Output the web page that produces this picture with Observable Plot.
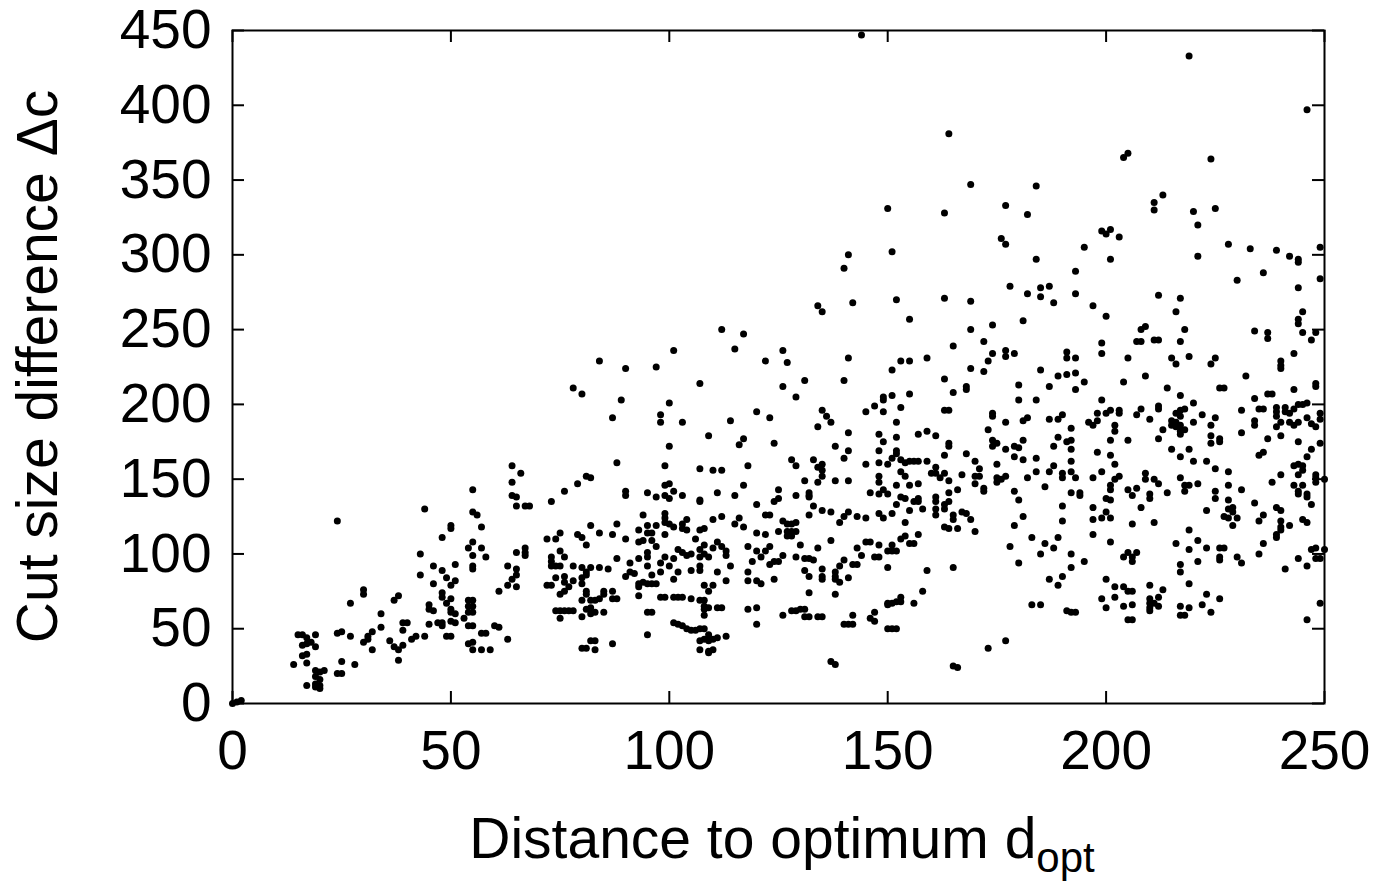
<!DOCTYPE html>
<html><head><meta charset="utf-8">
<script src="https://cdn.jsdelivr.net/npm/d3@7"></script>
<script src="https://cdn.jsdelivr.net/npm/@observablehq/plot@0.6"></script>
<style>body{margin:0;background:#fff;}</style>
</head><body><div id="chart"></div>
<script>
const xTicks = [0, 50, 100, 150, 200, 250];
const yTicks = [0, 50, 100, 150, 200, 250, 300, 350, 400, 450];
const xLabelMain = "Distance to optimum d";
const xLabelSub = "opt";
const yLabelText = "Cut size difference \u0394c";

// [distance, cut size difference]
const topMiddle = [[144,447],[164,381],[169,347],[184,346],[150,331],[163,328],[177,333],[182,327],[176,311],[177,307]];
const topRight = [[219,433],[246,397],[204,365],[205,368],[224,364],[211,335],[211,330],[213,340],[220,329],[225,331],[221,320],[199,316],[200,314],[201,317],[203,312],[195,305],[228,307],[233,304],[239,303],[249,305]];
const midLeft = [[112,250],[117,247],[115,237],[101,236],[84,229],[90,224],[97,225],[122,229],[107,214],[78,211],[80,207],[89,203],[100,201],[87,191],[98,193],[98,188],[103,188],[114,189],[120,195],[123,191],[109,179],[117,177],[116,173],[124,174],[100,172],[88,161],[64,159],[66,154],[99,159],[107,157],[110,156],[112,156],[118,159]];
const midCenter = [[141,300],[151,302],[140,291],[184,297],[178,279],[185,278],[187,279],[182,274],[185,272],[188,268],[134,266],[135,262],[142,268],[152,270],[163,271],[169,269],[155,257],[181,256],[169,250],[174,253],[172,242],[165,239],[177,236],[177,232],[179,234],[174,234],[173,229],[172,222],[169,224],[126,236],[127,228],[141,231],[153,229],[155,229],[159,231],[151,223],[185,223],[126,212],[131,216],[140,216],[129,205],[163,217],[168,212],[168,210],[165,208],[180,213],[187,212],[180,203],[184,203],[149,205],[149,203],[151,206],[155,207],[147,199],[153,198],[145,195],[149,195],[135,196],[136,192],[137,188],[134,185],[163,196],[164,196],[174,194],[174,192],[177,188],[181,189],[182,191],[187,190],[152,188],[141,181],[148,180],[152,178],[149,175],[157,180],[159,182],[161,179],[164,174],[164,172],[173,183],[174,176],[175,174],[174,172],[181,176],[179,172],[180,171],[177,170],[188,172],[138,172],[141,169],[140,164],[148,169],[152,169],[152,167],[151,164],[153,163],[154,161],[155,162],[156,162],[157,162],[159,162],[150,160],[148,161],[145,160],[163,166],[168,167],[170,162],[175,160],[179,165],[181,163],[184,164],[188,159],[128,163],[129,159],[133,163],[134,158],[135,160],[135,156],[135,152],[161,158],[160,154],[161,154],[163,154],[153,155],[154,152],[148,152],[171,157],[170,152],[171,152],[167,153],[182,151],[184,155],[187,155],[175,151],[177,152]];
const midRight = [[201,297],[221,299],[242,299],[244,297],[244,295],[193,289],[236,288],[230,283],[249,284],[244,278],[193,274],[212,273],[217,271],[197,266],[216,262],[200,259],[245,262],[244,257],[244,254],[208,250],[209,252],[218,250],[234,249],[237,248],[237,244],[245,248],[248,248],[247,243],[207,242],[208,242],[211,243],[212,243],[217,242],[199,241],[199,234],[191,235],[191,231],[193,231],[205,231],[215,231],[216,227],[219,232],[225,231],[224,227],[243,234],[240,229],[240,226],[240,224],[189,219],[191,220],[193,221],[195,215],[193,210],[204,215],[209,219],[232,219],[214,211],[217,206],[226,211],[227,211],[243,210],[248,214],[248,212],[199,203],[220,201],[234,204],[237,207],[238,207],[244,200],[245,200],[246,201],[208,197],[212,199],[212,197],[218,197],[217,196],[216,194],[217,192],[235,197],[236,197],[239,198],[239,195],[239,192],[241,198],[241,195],[242,194],[243,197],[231,196],[201,196],[203,196],[203,194],[200,194],[198,194],[207,193],[189,190],[190,193],[192,184],[196,188],[197,186],[198,189],[202,186],[202,182],[210,190],[213,183],[215,189],[215,186],[216,188],[216,185],[217,186],[217,182],[218,183],[217,180],[220,188],[222,193],[225,191],[224,186],[224,179],[224,174],[226,177],[226,175],[231,181],[234,189],[234,186],[237,177],[240,188],[239,185],[240,179],[242,188],[244,188],[243,186],[246,191],[247,187],[248,185],[249,194],[249,190],[244,175],[247,170],[249,174],[246,165],[243,159],[244,160],[245,159],[245,156],[244,153],[248,153],[189,178],[191,175],[192,176],[192,170],[192,162],[192,155],[190,154],[190,151],[193,151],[198,168],[201,166],[201,176],[202,160],[199,155],[205,176],[212,177],[215,170],[217,165],[219,170],[220,162],[223,162],[225,157],[228,155],[235,166],[236,168],[240,153],[209,154],[203,152]];
const lowRight = [[197,151],[202,150],[209,150],[211,150],[212,147],[217,151],[218,146],[219,146],[221,147],[228,146],[238,148],[243,146],[245,146],[248,151],[248,148],[250,150],[201,146],[201,143],[205,143],[207,144],[206,139],[210,140],[210,137],[214,141],[218,142],[225,142],[225,137],[231,143],[192,141],[194,141],[194,139],[200,137],[201,136],[244,142],[244,140],[246,140],[246,138],[247,133],[228,136],[234,134],[190,132],[197,131],[197,123],[208,131],[199,124],[200,128],[201,124],[190,122],[206,120],[211,121],[223,129],[228,130],[229,131],[229,128],[227,125],[228,124],[230,124],[229,119],[235,122],[236,126],[239,131],[240,129],[240,122],[240,118],[240,116],[242,119],[239,113],[239,111],[245,123],[246,121],[219,116],[197,113],[189,111],[188,104],[201,108],[216,107],[219,103],[221,109],[223,104],[226,104],[227,104],[226,98],[226,96],[230,98],[231,94],[221,95],[236,107],[235,100],[192,100],[192,91],[195,95],[206,98],[205,101],[204,98],[207,101],[206,95],[217,93],[217,88],[219,80],[190,85],[189,79],[200,83],[202,78],[204,78],[205,75],[206,75],[210,79],[213,76],[212,71],[210,70],[210,67],[210,64],[211,67],[212,65],[210,62],[199,70],[200,64],[202,71],[204,65],[206,66],[205,56],[206,56],[217,65],[219,64],[217,59],[218,59],[222,66],[223,73],[224,61],[226,70],[191,62],[192,61],[193,61],[241,90],[244,97],[246,92],[247,103],[248,104],[248,97],[249,97],[250,103],[249,67],[246,56]];
const lowCenter = [[131,149],[134,148],[138,149],[141,149],[148,148],[152,146],[155,146],[157,147],[162,151],[164,149],[170,147],[175,148],[176,150],[186,145],[125,143],[125,137],[129,139],[132,141],[132,139],[132,138],[133,132],[135,129],[137,128],[132,126],[139,121],[140,125],[141,128],[143,125],[145,124],[146,141],[148,140],[149,143],[150,140],[152,133],[153,138],[154,137],[156,135],[157,137],[157,135],[158,130],[155,129],[151,127],[154,121],[148,127],[149,124],[161,138],[161,135],[161,130],[161,126],[163,133],[163,130],[164,135],[164,141],[166,143],[165,126],[165,123],[167,128],[168,127],[169,123],[170,115],[163,118],[164,117],[166,117],[172,144],[172,142],[179,142],[180,136],[181,125],[179,119],[183,111],[186,107],[185,100],[178,105],[180,94],[187,83],[126,122],[127,120],[128,120],[129,121],[125,115],[127,115],[128,115],[129,115],[127,112],[128,112],[130,106],[134,104],[126,99],[125,95],[129,98],[131,97],[132,97],[133,96],[131,89],[132,85],[135,90],[135,85],[135,83],[138,88],[138,85],[138,83],[139,92],[139,81],[140,96],[141,84],[142,93],[143,93],[143,104],[144,99],[137,109],[145,108],[146,108],[148,106],[147,98],[148,98],[150,102],[151,106],[151,102],[152,102],[153,110],[154,112],[155,107],[156,107],[157,113],[150,91],[159,89],[165,91],[132,74],[138,73],[126,59],[128,62],[129,62],[130,63],[131,63],[131,58],[132,58],[134,58],[135,58],[140,53],[141,53],[142,53],[142,59],[146,57],[147,61],[147,55],[150,67],[151,67],[152,68],[153,71],[153,68],[150,66],[156,67],[158,75],[150,50],[151,50],[152,50],[137,28],[138,26],[165,25],[166,24],[173,37],[177,42],[183,66],[185,66]];
const lowMid = [[64,148],[79,147],[81,152],[82,151],[76,142],[73,135],[64,139],[65,138],[65,132],[67,132],[68,132],[90,142],[90,139],[95,141],[97,138],[99,146],[100,147],[99,139],[100,137],[101,142],[103,139],[107,136],[107,135],[111,141],[115,139],[117,146],[120,133],[124,135],[94,126],[99,127],[99,124],[99,121],[100,120],[101,118],[103,120],[104,123],[103,117],[104,116],[107,116],[108,117],[110,123],[112,125],[116,124],[115,120],[117,118],[120,114],[122,113],[122,126],[123,126],[93,116],[95,119],[97,119],[95,114],[96,114],[93,108],[94,109],[96,109],[97,105],[99,113],[106,110],[82,119],[84,114],[87,113],[88,120],[90,110],[79,113],[80,111],[81,106],[75,114],[74,110],[72,110],[65,101],[67,104],[67,101],[67,99],[63,92],[65,90],[65,86],[64,83],[63,79],[65,78],[73,98],[73,95],[73,92],[74,92],[75,92],[75,102],[76,98],[78,92],[80,91],[82,91],[81,88],[84,91],[86,90],[88,97],[72,79],[73,79],[74,84],[76,85],[76,81],[77,78],[76,75],[75,73],[78,82],[80,84],[80,80],[81,86],[81,75],[81,73],[80,69],[82,69],[83,69],[84,70],[85,75],[85,73],[87,75],[88,70],[87,70],[74,62],[75,62],[76,62],[77,62],[78,62],[75,57],[80,58],[81,63],[82,64],[82,60],[83,61],[85,61],[91,94],[90,85],[91,88],[92,87],[93,97],[95,101],[95,98],[95,92],[96,86],[98,94],[98,88],[99,98],[100,92],[101,97],[101,83],[102,88],[102,103],[103,101],[104,99],[105,100],[105,89],[107,103],[107,98],[107,92],[107,89],[108,106],[108,100],[109,98],[110,104],[111,108],[111,88],[112,105],[113,102],[113,99],[114,92],[113,82],[93,80],[94,81],[95,80],[96,80],[97,80],[93,78],[93,72],[98,71],[99,71],[101,71],[102,71],[103,71],[105,70],[108,79],[109,75],[110,79],[107,69],[108,69],[108,65],[108,63],[109,64],[111,64],[112,64],[108,59],[95,61],[96,61],[95,46],[101,54],[102,53],[103,52],[104,50],[105,49],[106,49],[107,50],[108,50],[109,46],[108,43],[107,42],[109,42],[110,43],[111,44],[113,45],[107,36],[109,35],[110,36],[109,34],[118,105],[118,88],[118,82],[120,102],[120,82],[121,80],[121,98],[119,95],[122,102],[123,105],[123,93],[124,95],[124,83],[118,63],[120,64],[120,53],[63,43],[80,37],[81,37],[82,42],[83,42],[83,36],[87,40]];
const lowLeft = [[24,122],[44,130],[55,143],[55,128],[56,126],[57,118],[50,119],[50,117],[48,111],[54,104],[55,108],[57,104],[58,98],[55,99],[55,92],[55,90],[43,100],[43,86],[46,92],[46,80],[48,89],[49,84],[50,79],[51,82],[51,93],[48,74],[48,71],[50,70],[49,67],[45,66],[45,63],[46,62],[50,63],[50,61],[51,60],[54,69],[55,69],[54,65],[55,65],[54,61],[55,61],[53,57],[54,52],[55,52],[51,54],[50,55],[47,54],[48,54],[48,52],[45,53],[57,47],[58,47],[60,52],[61,51],[61,75],[54,40],[55,41],[55,36],[57,36],[59,36],[49,45],[50,45],[44,45],[42,45],[41,43],[39,54],[40,54],[39,49],[38,72],[37,69],[34,60],[34,51],[30,76],[30,73],[27,67],[32,48],[31,45],[31,43],[30,41],[32,36],[36,42],[37,38],[38,36],[38,29],[39,39],[24,47],[25,48],[27,45],[28,26],[25,28],[24,20],[25,20],[15,46],[16,46],[17,44],[16,39],[17,40],[19,46],[19,38],[18,41],[14,26],[17,27],[16,32],[17,12],[17,33],[19,22],[19,18],[20,21],[21,22],[19,13],[19,11],[20,12],[20,10],[20,16],[0,0],[1,1],[2,2]];

const points = [topMiddle, topRight, midLeft, midCenter, midRight, lowRight, lowCenter, lowMid, lowLeft]
  .flat().map(([d, c]) => ({d, c}));

const W = 1389, H = 884, mL = 232, mR = 65, mT = 30, mB = 181;
const innerW = W - mL - mR, innerH = H - mT - mB;
const font = "'Liberation Sans', Arial, Helvetica, sans-serif";
const tickLen = 12;

const chart = Plot.plot({
  width: W, height: H,
  marginLeft: mL, marginRight: mR, marginTop: mT, marginBottom: mB,
  style: {fontFamily: font, background: "white", color: "black", overflow: "visible"},
  x: {domain: [0, 250]},
  y: {domain: [0, 450]},
  marks: [
    Plot.dot(points, {x: "d", y: "c", r: 3.5, fill: "black", stroke: "none"}),
    Plot.tickX(xTicks, {x: d => d, insetTop: innerH - tickLen, stroke: "black", strokeWidth: 2}),
    Plot.tickX(xTicks, {x: d => d, insetBottom: innerH - tickLen, stroke: "black", strokeWidth: 2}),
    Plot.tickY(yTicks, {y: d => d, insetRight: innerW - tickLen, stroke: "black", strokeWidth: 2}),
    Plot.tickY(yTicks, {y: d => d, insetLeft: innerW - tickLen, stroke: "black", strokeWidth: 2}),
    Plot.frame({stroke: "black", strokeWidth: 2}),
    Plot.axisX({ticks: xTicks, tickSize: 0, tickPadding: 26, fontSize: 55, label: null, fill: "black"}),
    Plot.axisY({ticks: yTicks, tickSize: 0, tickPadding: 21, fontSize: 55, label: null, fill: "black"})
  ]
});

const svg = d3.select(chart);
svg.append("text")
  .attr("transform", `translate(57, ${mT + innerH / 2}) rotate(-90)`)
  .attr("text-anchor", "middle")
  .attr("font-family", font).attr("font-size", 57).attr("fill", "black")
  .text(yLabelText);
const xt = svg.append("text")
  .attr("x", mL + innerW / 2 + 4).attr("y", 858)
  .attr("text-anchor", "middle")
  .attr("font-family", font).attr("font-size", 57).attr("fill", "black");
xt.append("tspan").text(xLabelMain);
xt.append("tspan").attr("dy", 14).attr("font-size", 42).text(xLabelSub);

document.getElementById("chart").appendChild(chart);
</script></body></html>
